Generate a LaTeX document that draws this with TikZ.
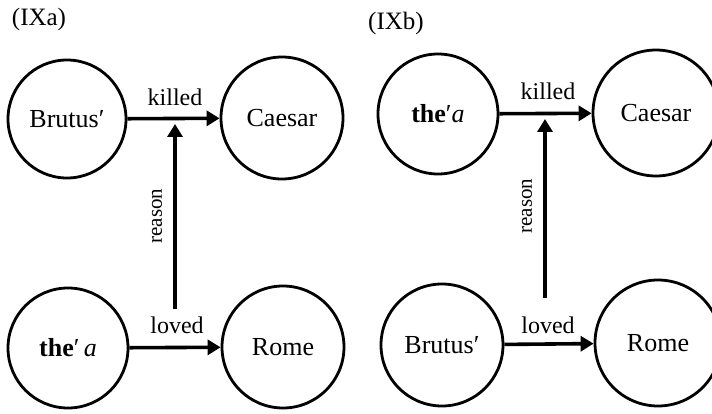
\documentclass[tikz,border=0pt]{standalone}
\usepackage{fontspec}
\setmainfont{Liberation Serif}
\usetikzlibrary{arrows.meta}
\begin{document}
\begin{tikzpicture}[x=1pt,y=-1pt,
  ent/.style={circle,draw,line width=2.8pt,inner sep=0pt,font=\fontsize{26}{30}\selectfont},
  rel/.style={line width=3.6pt,-{Triangle[length=13pt,width=15pt]}},
  lab/.style={font=\fontsize{24}{28}\selectfont,inner sep=0pt},
  rlab/.style={font=\fontsize{21}{25}\selectfont,inner sep=0pt,rotate=90}]
\useasboundingbox (0,0) rectangle (712,414);
% (IXa)
\node[lab,font=\fontsize{25}{29}\selectfont] (ta) at (39,19) {(IXa)};
\node[ent,minimum size=118pt] (b1) at (67,119) {Brutus′};
\node[ent,minimum size=122pt] (c1) at (282,118) {Caesar};
\node[ent,minimum size=120pt] (t1) at (68,348) {\textbf{the}′\,\textit{a}};
\node[ent,minimum size=122pt] (r1) at (283,347) {Rome};
\draw[rel] (b1) -- (c1);
\draw[rel] (t1) -- (r1);
\node[lab] (k1) at (175,97) {killed};
\node[lab] (l1) at (177,325) {loved};
\coordinate (rs1) at (175,309);
\coordinate (re1) at (175,124);
\draw[rel] (rs1) -- (re1);
\node[rlab] (rl1) at (157,216) {reason};
% (IXb)
\node[lab,font=\fontsize{25}{29}\selectfont] (tb) at (396,23) {(IXb)};
\node[ent,minimum size=120pt] (t2) at (438,114) {\textbf{the}′\textit{a}};
\node[ent,minimum size=126pt] (c2) at (656,113) {Caesar};
\node[ent,minimum size=122pt] (b2) at (442,345) {Brutus′};
\node[ent,minimum size=126pt] (r2) at (658,343) {Rome};
\draw[rel] (t2) -- (c2);
\draw[rel] (b2) -- (r2);
\node[lab] (k2) at (548,91) {killed};
\node[lab] (l2) at (548,325) {loved};
\coordinate (rs2) at (545,298);
\coordinate (re2) at (545,119);
\draw[rel] (rs2) -- (re2);
\node[rlab] (rl2) at (527,206) {reason};
\end{tikzpicture}
\end{document}
